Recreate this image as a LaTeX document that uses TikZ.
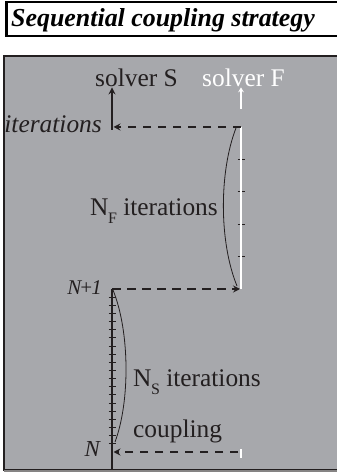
\documentclass[tikz,border=0pt]{standalone}
\usepackage{fontspec}
\setmainfont{Liberation Serif}
\usepackage{tikz}
\usetikzlibrary{arrows.meta}
\usepackage{xcolor}
\definecolor{ink}{HTML}{231F20}
\definecolor{panel}{HTML}{A7A8AC}
\newcommand{\lowidx}[1]{\kern-.5bp\raisebox{-.3em}{\fontsize{16}{16}\selectfont #1}}
\tikzset{axisS/.style={draw=ink,line width=1.8bp},axisF/.style={draw=white,line width=1.8bp},tickmark/.style={draw=ink,line width=1bp},linkarrow/.style={draw=ink,line width=1.8bp,dash pattern=on 8.5bp off 6.5bp,-{Stealth[length=7bp,width=7bp,inset=2.5bp]}},itercurve/.style={draw=ink,line width=.8bp},lbl/.style={font=\fontsize{25.5}{28}\selectfont,inner sep=0pt,text=ink}}
\begin{document}
\begin{tikzpicture}[x=1bp,y=1bp]
\useasboundingbox (0,0) rectangle (336,472);
\draw[line width=1.2bp] (6,436) rectangle (345,470);
\draw[line width=2.4bp] (6.8,470) -- (6.8,435.8) -- (345,435.8);
\node[anchor=base west,inner sep=0pt,font=\fontsize{26}{28}\selectfont\bfseries\itshape] (title) at (11,445) {Sequential coupling strategy};
\filldraw[fill=panel,draw=ink,line width=1.1bp] (4,2) rectangle (345,416);
\draw[draw=ink!55,line width=2bp] (4,1) -- (345,1);
\coordinate (sTop) at (112,345);
\coordinate (fTop) at (241,345);
\coordinate (sMid) at (112,183);
\coordinate (fMid) at (241,183);
\coordinate (sBot) at (112,20);
\coordinate (fBot) at (241,20);
\coordinate (sEnd) at (112,2);
\coordinate (fLow) at (241,14);
\node[lbl,anchor=base] (solS) at (136.5,385) {solver S};
\node[lbl,anchor=base,text=white] (solF) at (243.5,385) {solver F};
\coordinate (fArrow) at (241,363);
\draw[axisS,-{Stealth[length=7bp,width=7bp,inset=2.5bp]}] (112,342) -- (solS.south -| sTop);
\draw[draw=white,line width=1.5bp,-{Stealth[length=5bp,width=6bp,inset=2bp]}] (fArrow) -- (solF.south -| fArrow);
\foreach \k in {1,...,4} \draw[tickmark] (237.5,{345-\k*32.4}) -- ++(7,0);
\draw[axisF] (fTop) -- (fMid);
\draw[axisF] (fBot) ++(0,2.5) -- (fLow);
\draw[axisS] (sMid) -- (sEnd);
\foreach \k in {1,...,19} \draw[tickmark] (108.5,{20+\k*8.15}) -- ++(7,0);
\draw[linkarrow] (fTop) -- ([xshift=1.5bp]sTop);
\draw[linkarrow] (sMid) -- ([xshift=-1bp]fMid);
\draw[linkarrow] ([xshift=-3bp]fBot) -- ([xshift=1.5bp]sBot);
\draw[itercurve] (236,344) .. controls (219,300) and (219,230) .. (237,186);
\draw[itercurve] (113,182) .. controls (130,140) and (130,70) .. (115,30);
\node[lbl,anchor=base east,font=\fontsize{25.5}{28}\selectfont\itshape] (itS) at (102,339) {iterations};
\node[lbl,anchor=base west] (nF) at (90,256) {N\lowidx{F} iterations};
\node[lbl,anchor=base east,font=\fontsize{21}{24}\selectfont\itshape] (nPlus) at (102,177) {N\kern-2bp+\kern-2bp1};
\node[lbl,anchor=base west] (nS) at (133,85) {N\lowidx{S} iterations};
\node[lbl,anchor=base west] (coup) at (133,34) {coupling};
\node[lbl,anchor=base east,font=\fontsize{23}{25}\selectfont\itshape] (nLvl) at (100,15) {N};
\end{tikzpicture}
\end{document}
